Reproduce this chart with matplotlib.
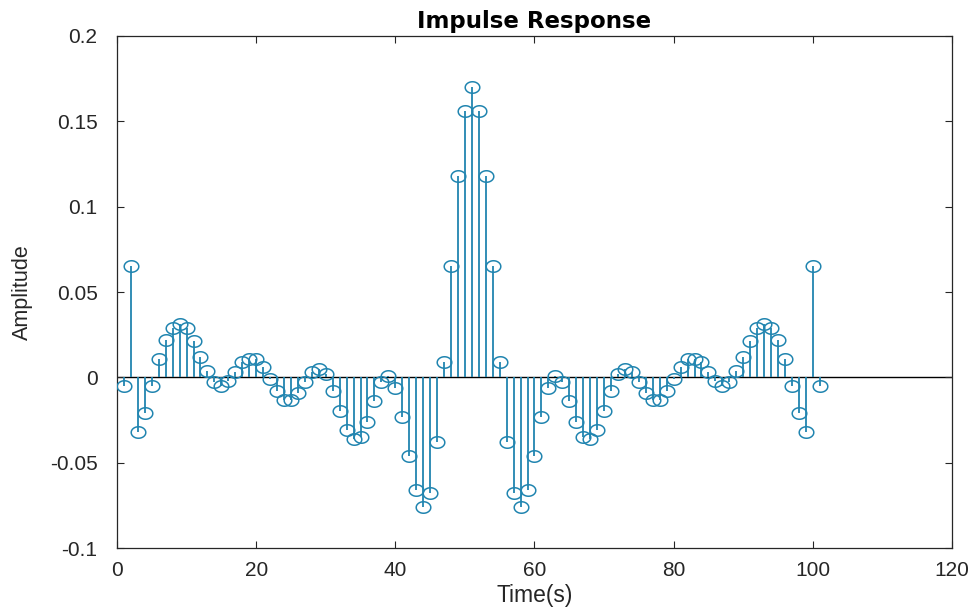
import matplotlib.pyplot as plt
from matplotlib.path import Path
import numpy as np


# samples n = 1..101
time_s = list(range(1, 102))
amplitude = [
	-0.005, 0.065, -0.032, -0.021, -0.005, 0.011, 0.022, 0.029, 0.031, 0.029,
	0.021, 0.012, 0.004, -0.003, -0.005, -0.002, 0.003, 0.009, 0.011, 0.011,
	0.006, -0.001, -0.008, -0.013, -0.013, -0.009, -0.003, 0.003, 0.005, 0.002,
	-0.008, -0.020, -0.031, -0.036, -0.035, -0.026, -0.014, -0.003, 0.001, -0.006,
	-0.023, -0.046, -0.066, -0.076, -0.068, -0.038, 0.009, 0.065, 0.118, 0.156,
	0.170,
	0.156, 0.118, 0.065, 0.009, -0.038, -0.068, -0.076, -0.066, -0.046, -0.023,
	-0.006, 0.001, -0.003, -0.014, -0.026, -0.035, -0.036, -0.031, -0.020, -0.008,
	0.002, 0.005, 0.003, -0.003, -0.009, -0.013, -0.013, -0.008, -0.001, 0.006,
	0.011, 0.011, 0.009, 0.003, -0.002, -0.005, -0.003, 0.004, 0.012, 0.021,
	0.029, 0.031, 0.029, 0.022, 0.011, -0.005, -0.021, -0.032, 0.065, -0.005,
]
x_ticks = [0, 20, 40, 60, 80, 100, 120]
y_ticks = [-0.1, -0.05, 0, 0.05, 0.1, 0.15, 0.2]
y_tick_labels = ["-0.1", "-0.05", "0", "0.05", "0.1", "0.15", "0.2"]

stem_color = (0.13, 0.52, 0.69)
text_color = (0.15, 0.15, 0.15)

plt.rcParams['font.family'] = ['Liberation Sans', 'DejaVu Sans']

# slightly flattened circle, like the stretched picture
theta = np.linspace(0, 2 * np.pi, 60)
ellipse = Path(np.column_stack([1.27 * np.cos(theta), np.sin(theta)]), closed=True)

fig = plt.figure(figsize=(9.78, 6.13), dpi=100)
ax = fig.add_axes([0.1196, 0.106, 0.8538, 0.8353])

ax.axhline(0, color='black', linewidth=1.0, zorder=1)
ax.vlines(time_s, 0, amplitude, color=stem_color, linewidth=1.3, zorder=2)
ax.plot(time_s, amplitude, linestyle='none', marker=ellipse, markersize=10.5,
		markerfacecolor='none', markeredgecolor=stem_color, markeredgewidth=1.1, zorder=3)

ax.set_xlim(0, 120)
ax.set_ylim(-0.1, 0.2)
ax.set_xticks(x_ticks)
ax.set_yticks(y_ticks)
ax.set_yticklabels(y_tick_labels)
ax.tick_params(direction='in', length=5, width=0.8, top=True, right=True,
			   colors=text_color, labelsize=15)
ax.tick_params(axis='x', pad=9)
ax.tick_params(axis='y', pad=14)
for spine in ax.spines.values():
	spine.set_color(text_color)
	spine.set_linewidth(0.9)

ax.set_title("Impulse Response", fontsize=16.5, fontweight='bold', color='black',
			 family=['DejaVu Sans'], pad=6)
ax.set_xlabel("Time(s)", fontsize=16.5, color=text_color, labelpad=3)
ax.set_ylabel("Amplitude", fontsize=15.5, color=text_color, labelpad=12)

fig.savefig("out.png", dpi=100)
